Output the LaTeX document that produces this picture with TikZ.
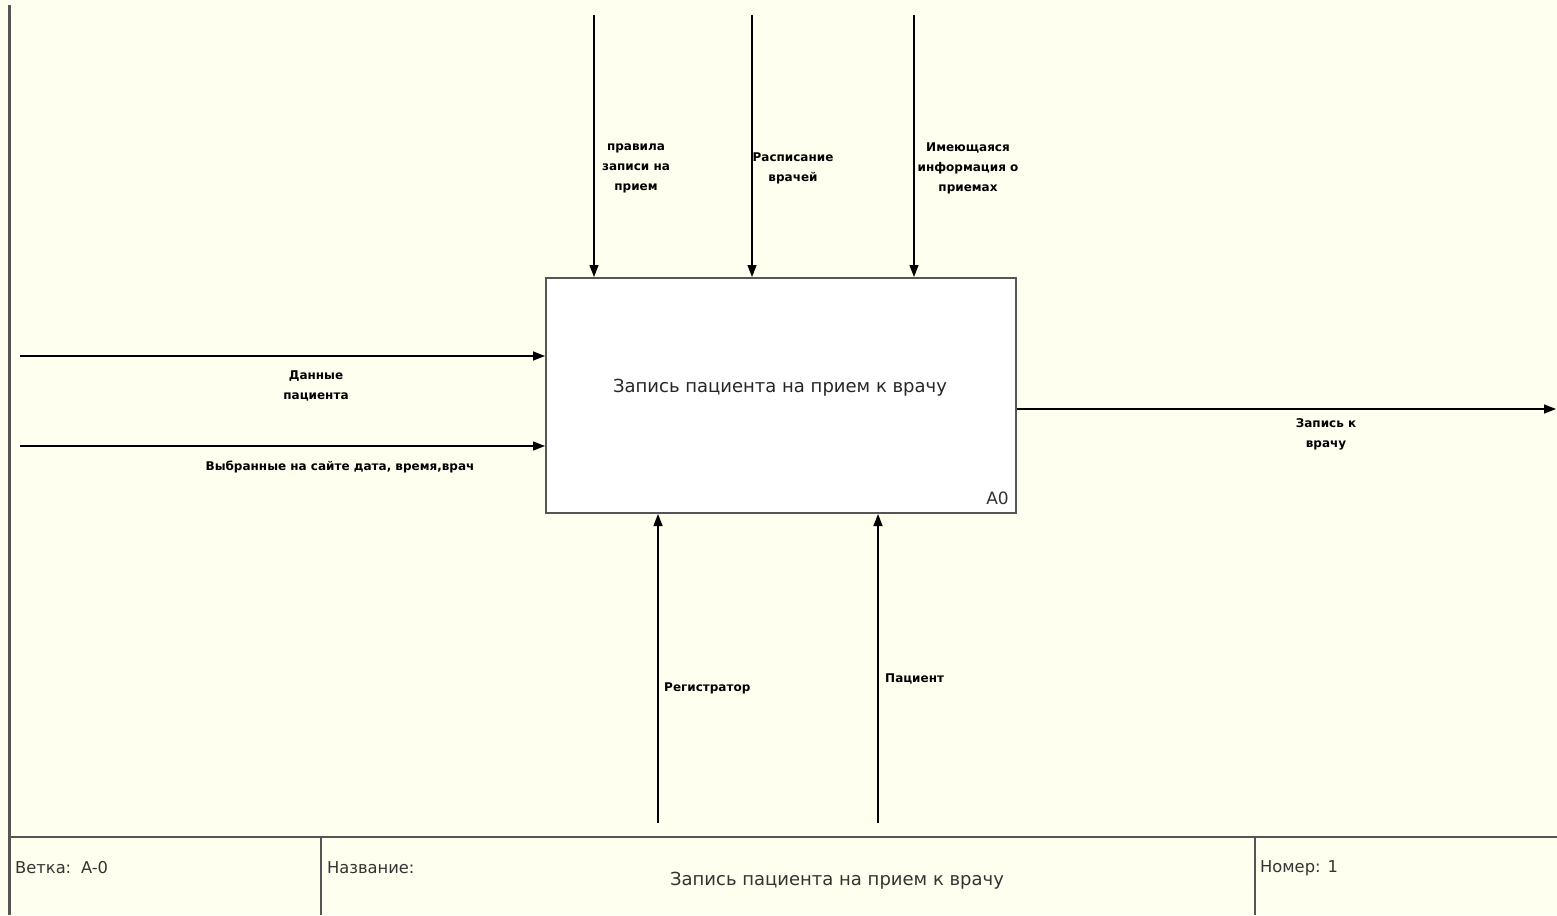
\documentclass[tikz,border=0pt]{standalone}
\usepackage{fontspec}
\setmainfont{DejaVu Sans}
\usetikzlibrary{arrows.meta}
\definecolor{paper}{HTML}{FFFFF0}
\definecolor{frame}{HTML}{555555}
\tikzset{
  arr/.style={draw=black, line width=1.4pt, -{Triangle[length=12pt,width=9pt]}},
  lbl/.style={font=\bfseries\fontsize{12}{20}\selectfont, align=center, inner sep=0pt},
  cell/.style={font=\fontsize{16.3}{18}\selectfont, anchor=west, inner sep=0pt, text=black!80},
  framel/.style={draw=frame, line width=2pt},
}
\begin{document}
\begin{tikzpicture}[x=1pt,y=-1pt]
  \useasboundingbox (0,0) rectangle (1557,915);
  \fill[paper] (0,0) rectangle (1557,915);

  % sheet border and title strip
  \draw[framel, line width=3pt] (9,5) -- (9,915);
  \draw[framel] (9,837) -- (1557,837);
  \draw[framel] (321,837) -- (321,915);
  \draw[framel] (1255,837) -- (1255,915);
  \node[cell] (branch) at (15,868) {Ветка:\hspace{0.6em}A-0};
  \node[cell] (title) at (327,868) {Название:};
  \node[font=\fontsize{18}{20}\selectfont, inner sep=0pt, text=black!80] (titletext) at (837,881) {Запись пациента на прием к врачу};
  \node[cell] (number) at (1260,868) {Номер: 1};

  % activity box
  \node[draw=frame, line width=2pt, fill=white, minimum width=470pt, minimum height=235pt, inner sep=0pt]
    (box) at (781,395.5) {};
  \node[font=\fontsize{18}{20}\selectfont, inner sep=0pt, text=black!85] (boxtext) at (780,388) {Запись пациента на прием к врачу};
  \node[font=\fontsize{17}{19}\selectfont, inner sep=0pt, anchor=south east, text=black!80] (nodeid) at (1009,505) {A0};

  % controls
  \coordinate (c1) at (594,15);
  \coordinate (c2) at (752,15);
  \coordinate (c3) at (914,15);
  \draw[arr] (c1) -- (c1 |- box.north);
  \draw[arr] (c2) -- (c2 |- box.north);
  \draw[arr] (c3) -- (c3 |- box.north);
  \node[lbl] (l1) at (636,168) {правила\\записи на\\прием};
  \node[lbl] (l2) at (793,168) {Расписание\\врачей};
  \node[lbl] (l3) at (968,168) {Имеющаяся\\информация о\\приемах};

  % inputs
  \coordinate (i1) at (20,356);
  \coordinate (i2) at (20,446);
  \draw[arr] (i1) -- (i1 -| box.west);
  \draw[arr] (i2) -- (i2 -| box.west);
  \node[lbl] (l4) at (316,386) {Данные\\пациента};
  \node[lbl] (l5) at (340,467) {Выбранные на сайте дата, время,врач};

  % output
  \coordinate (o1) at (1556,409);
  \draw[arr] (o1 -| box.east) -- (o1);
  \node[lbl] (l6) at (1326,434) {Запись к\\врачу};

  % mechanisms
  \coordinate (m1) at (658,823);
  \coordinate (m2) at (878,823);
  \draw[arr] (m1) -- (m1 |- box.south);
  \draw[arr] (m2) -- (m2 |- box.south);
  \node[lbl, anchor=west] (l7) at (664,688) {Регистратор};
  \node[lbl, anchor=west] (l8) at (885,679) {Пациент};
\end{tikzpicture}
\end{document}
